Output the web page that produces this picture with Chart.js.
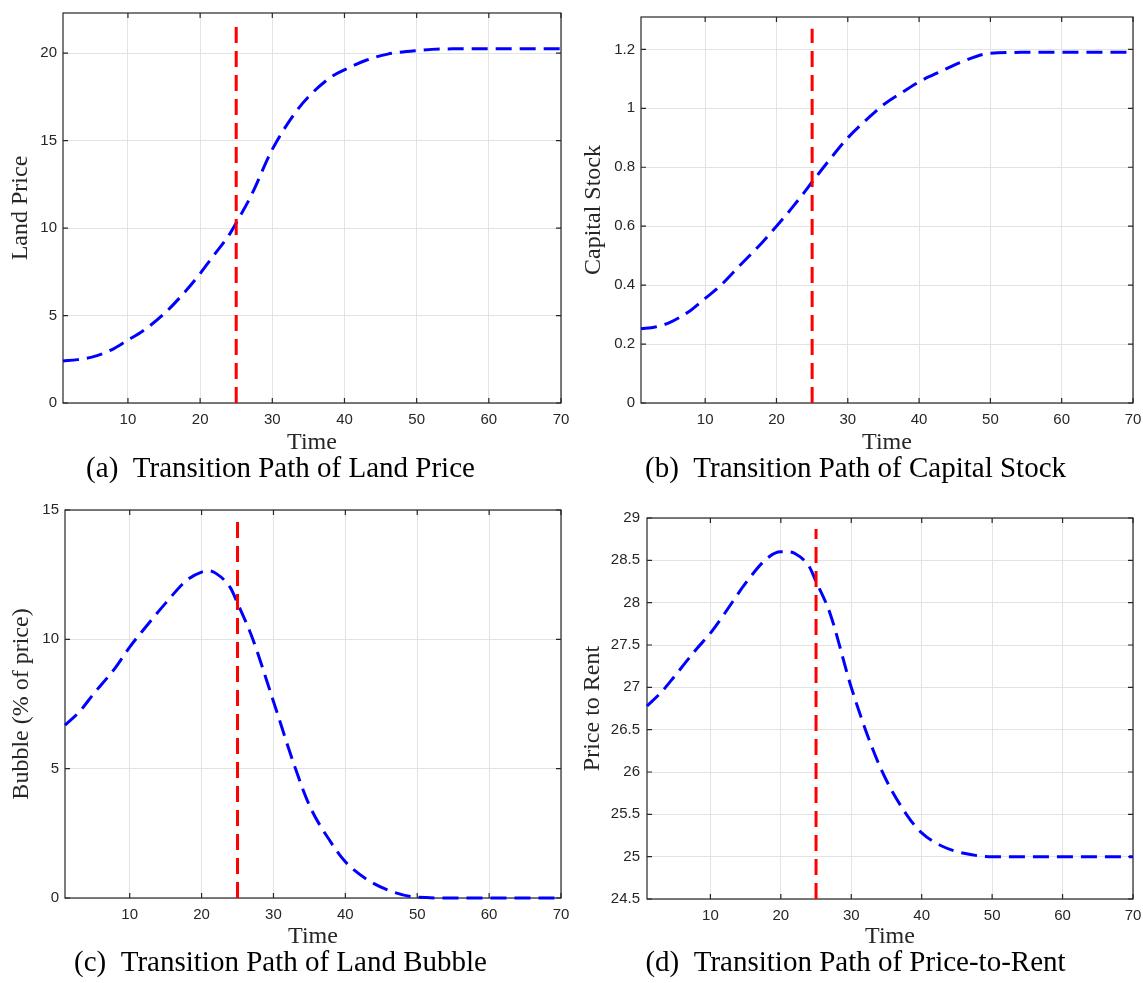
<!DOCTYPE html>
<html>
<head>
<meta charset="utf-8">
<script src="https://cdn.jsdelivr.net/npm/chart.js@4"></script>
<style>
  body { margin: 0; background: #fff; overflow: hidden; }
  canvas { position: absolute; }
</style>
</head>
<body>
<canvas id="landPriceChart" width="570" height="490" style="left:0px;top:0px"></canvas>
<canvas id="capitalChart" width="565" height="490" style="left:578px;top:0px"></canvas>
<canvas id="bubbleChart" width="570" height="493" style="left:0px;top:490px"></canvas>
<canvas id="rentChart" width="565" height="493" style="left:578px;top:490px"></canvas>
<script>
// transition paths, sampled over time
const time = [1, 3, 5, 8, 10, 12, 15, 18, 20, 21, 22, 24, 25, 27, 30, 33, 35, 38, 40, 43, 46, 50, 55, 60, 65, 70];
const landPrice = [2.4, 2.48, 2.62, 3.1, 3.6, 4.1, 5.1, 6.4, 7.4, 7.95, 8.5, 9.6, 10.3, 11.8, 14.5, 16.5, 17.5, 18.6, 19.05, 19.6, 19.95, 20.15, 20.25, 20.25, 20.25, 20.25];
const capitalStock = [0.252, 0.258, 0.273, 0.315, 0.355, 0.395, 0.47, 0.545, 0.6, 0.628, 0.657, 0.718, 0.75, 0.812, 0.9, 0.97, 1.012, 1.06, 1.09, 1.125, 1.158, 1.187, 1.19, 1.19, 1.19, 1.19];
const landBubble = [6.68, 7.2, 7.9, 8.9, 9.7, 10.4, 11.4, 12.3, 12.6, 12.65, 12.55, 12.0, 11.4, 10.1, 7.6, 5.05, 3.58, 2.15, 1.4, 0.72, 0.3, 0.03, 0, 0, 0, 0];
const priceToRent = [26.78, 26.94, 27.14, 27.45, 27.64, 27.87, 28.23, 28.52, 28.6, 28.6, 28.58, 28.43, 28.25, 27.87, 27.0, 26.28, 25.9, 25.48, 25.28, 25.12, 25.04, 25.0, 25.0, 25.0, 25.0, 25.0];

// vertical marker at the shock date
const shockTime = 25;
const shockLandPrice = [0, 21.6];
const shockCapital = [0, 1.27];
const shockBubble = [0, 14.57];
const shockRent = [24.5, 28.87];

// tick labels
const timeTicks = [10, 20, 30, 40, 50, 60, 70];
const landPriceTicks = [0, 5, 10, 15, 20];
const capitalTicks = [0, 0.2, 0.4, 0.6, 0.8, 1, 1.2];
const bubbleTicks = [0, 5, 10, 15];
const rentTicks = [24.5, 25, 25.5, 26, 26.5, 27, 27.5, 28, 28.5, 29];

const axisColor = "#262626";
const gridColor = "#e3e3e3";
const serif = "'Liberation Serif', 'Times New Roman', serif";
const sans = "'Liberation Sans', Arial, sans-serif";

// MATLAB-like box with inward tick marks on all four sides
const axesBox = {
  id: "axesBox",
  beforeDatasetsDraw(chart) {
    const { ctx, chartArea: a, scales } = chart;
    ctx.save();
    ctx.strokeStyle = axisColor;
    ctx.lineWidth = 1.2;
    ctx.strokeRect(a.left, a.top, a.right - a.left, a.bottom - a.top);
    ctx.beginPath();
    scales.x.ticks.forEach((t) => {
      const px = scales.x.getPixelForValue(t.value);
      ctx.moveTo(px, a.bottom);
      ctx.lineTo(px, a.bottom - 5);
      ctx.moveTo(px, a.top);
      ctx.lineTo(px, a.top + 5);
    });
    scales.y.ticks.forEach((t) => {
      const py = scales.y.getPixelForValue(t.value);
      ctx.moveTo(a.left, py);
      ctx.lineTo(a.left + 5, py);
      ctx.moveTo(a.right, py);
      ctx.lineTo(a.right - 5, py);
    });
    ctx.stroke();
    ctx.restore();
  },
};

// let the layout padding alone decide where the plot box sits
function noLabelPadding(s) {
  s.paddingLeft = 0;
  s.paddingRight = 0;
  s.paddingTop = 0;
  s.paddingBottom = 0;
}

function makePanel(id, p) {
  const ctx = document.getElementById(id).getContext("2d");
  return new Chart(ctx, {
    type: "line",
    data: {
      datasets: [
        {
          data: p.shock.map((v) => ({ x: shockTime, y: v })),
          borderColor: "#ff0000",
          borderWidth: 3,
          borderDash: [16, 8],
          pointRadius: 0,
          clip: 4,
        },
        {
          data: time.map((t, i) => ({ x: t, y: p.series[i] })),
          borderColor: "#0000ff",
          borderWidth: 3,
          borderDash: [16, 8],
          pointRadius: 0,
          cubicInterpolationMode: "monotone",
          clip: 4,
        },
      ],
    },
    options: {
      responsive: false,
      animation: false,
      devicePixelRatio: 1,
      layout: { padding: p.padding },
      plugins: {
        legend: { display: false },
        tooltip: { enabled: false },
        title: {
          display: true,
          position: "bottom",
          text: p.caption,
          color: "#000",
          font: { family: serif, size: 29, weight: "normal", lineHeight: "25px" },
          padding: { top: 0, bottom: p.captionGap },
        },
      },
      scales: {
        x: {
          type: "linear",
          min: 1,
          max: 70,
          afterBuildTicks: (s) => {
            s.ticks = timeTicks.map((v) => ({ value: v }));
          },
          afterFit: (s) => {
            s.height = p.xHeight;
            noLabelPadding(s);
          },
          grid: { color: gridColor, drawTicks: false },
          border: { display: false },
          ticks: { color: axisColor, font: { family: sans, size: 15 }, padding: 8, maxRotation: 0, autoSkip: false },
          title: {
            display: true,
            text: "Time",
            color: axisColor,
            font: { family: serif, size: 24 },
            padding: { top: 0, bottom: 0 },
          },
        },
        y: {
          type: "linear",
          min: p.yMin,
          max: p.yMax,
          afterBuildTicks: (s) => {
            s.ticks = p.ticks.map((v) => ({ value: v }));
          },
          afterFit: (s) => {
            s.width = p.yWidth;
            noLabelPadding(s);
          },
          grid: { color: gridColor, drawTicks: false },
          border: { display: false },
          ticks: {
            color: axisColor,
            font: { family: sans, size: 15 },
            padding: p.tickGap,
            autoSkip: false,
            callback: (v) => String(Math.round(v * 100) / 100),
          },
          title: {
            display: true,
            text: p.yTitle,
            color: axisColor,
            font: { family: serif, size: 24 },
            padding: { top: p.yTitleGap, bottom: 0 },
          },
        },
      },
    },
    plugins: [axesBox],
  });
}

makePanel("landPriceChart", {
  series: landPrice,
  shock: shockLandPrice,
  ticks: landPriceTicks,
  yMin: 0,
  yMax: 22.3,
  yTitle: "Land Price",
  caption: "(a)  Transition Path of Land Price",
  padding: { top: 13, right: 9, left: 0, bottom: 0 },
  yWidth: 63,
  xHeight: 54,
  captionGap: 8,
  tickGap: 6,
  yTitleGap: 6,
});

makePanel("capitalChart", {
  series: capitalStock,
  shock: shockCapital,
  ticks: capitalTicks,
  yMin: 0,
  yMax: 1.31,
  yTitle: "Capital Stock",
  caption: "(b)  Transition Path of Capital Stock",
  padding: { top: 17, right: 10, left: 0, bottom: 0 },
  yWidth: 63,
  xHeight: 54,
  captionGap: 8,
  tickGap: 6,
  yTitleGap: 1,
});

makePanel("bubbleChart", {
  series: landBubble,
  shock: shockBubble,
  ticks: bubbleTicks,
  yMin: 0,
  yMax: 15,
  yTitle: "Bubble (% of price)",
  caption: "(c)  Transition Path of Land Bubble",
  padding: { top: 20, right: 9, left: 0, bottom: 0 },
  yWidth: 65,
  xHeight: 53,
  captionGap: 7,
  tickGap: 6,
  yTitleGap: 7,
});

makePanel("rentChart", {
  series: priceToRent,
  shock: shockRent,
  ticks: rentTicks,
  yMin: 24.5,
  yMax: 29,
  yTitle: "Price to Rent",
  caption: "(d)  Transition Path of Price-to-Rent",
  padding: { top: 28, right: 10, left: 0, bottom: 0 },
  yWidth: 69,
  xHeight: 52,
  captionGap: 7,
  tickGap: 7,
  yTitleGap: 0,
});
</script>
</body>
</html>
